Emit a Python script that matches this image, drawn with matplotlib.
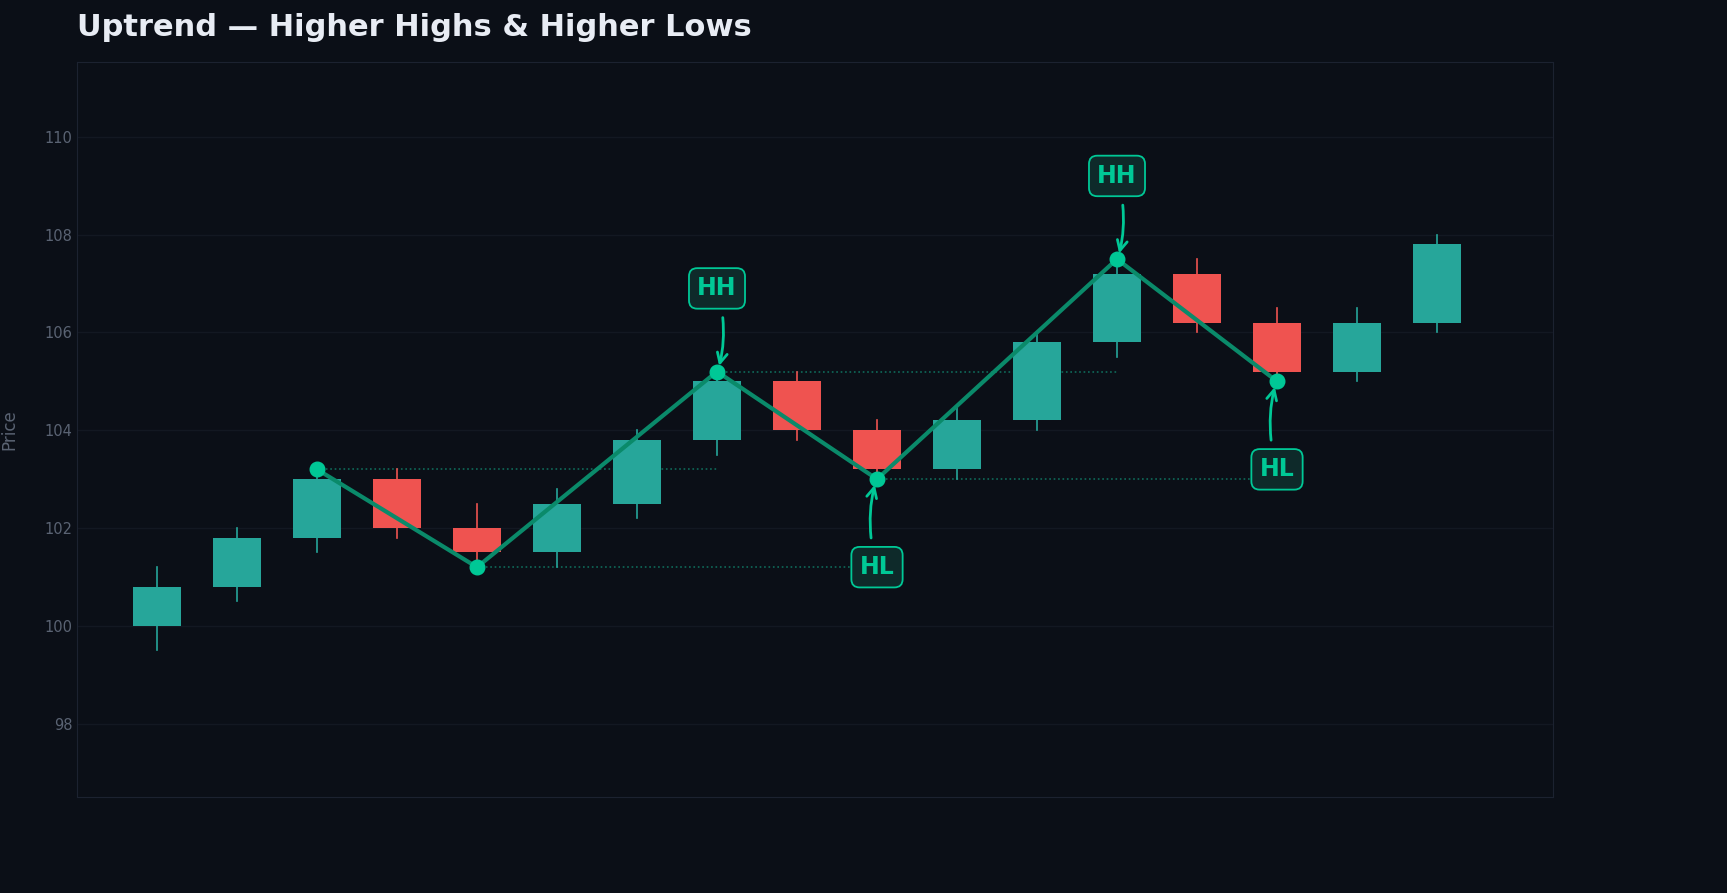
import matplotlib
matplotlib.use("Agg")
import matplotlib.pyplot as plt
from matplotlib.patches import Rectangle

opens  = [100.0,100.8,101.8,103.0,102.0,101.5,102.5,103.8,105.0,104.0,103.2,104.2,105.8,107.2,106.2,105.2,106.2]
closes = [100.8,101.8,103.0,102.0,101.5,102.5,103.8,105.0,104.0,103.2,104.2,105.8,107.2,106.2,105.2,106.2,107.8]
highs  = [101.2,102.0,103.2,103.2,102.5,102.8,104.0,105.2,105.2,104.2,104.5,106.0,107.5,107.5,106.5,106.5,108.0]
lows   = [99.5,100.5,101.5,101.8,101.2,101.2,102.2,103.5,103.8,103.0,103.0,104.0,105.5,106.0,105.0,105.0,106.0]
piv_x = [2,4,7,9,12,14]
piv_y = [103.2,101.2,105.2,103.0,107.5,105.0]
labels = ["HH","HL","HH","HL"]
label_idx = [7,9,12,14]
label_y = [106.9,101.2,109.2,103.2]

BG = "#0b0f17"
GREEN = "#26a69a"; RED = "#ef5350"; ACC = "#00c896"
fig = plt.figure(figsize=(17.27,8.93), dpi=100, facecolor=BG)
ax = fig.add_axes([77/1727, 1-797/893, (1553-77)/1727, (797-62)/893])
ax.set_facecolor(BG)
ax.set_xlim(-1, 17.45)
ax.set_ylim(96.5, 111.53)
w = 0.6
for i,(o,c,h,l) in enumerate(zip(opens,closes,highs,lows)):
    col = GREEN if c >= o else RED
    ax.plot([i,i],[l,h],color=col,lw=1.2,zorder=2)
    ax.add_patch(Rectangle((i-w/2,min(o,c)),w,abs(c-o),facecolor=col,edgecolor='none',zorder=3))
ax.plot(piv_x,piv_y,color="#0a8a6a",lw=3,zorder=4)
ax.scatter(piv_x,piv_y,s=110,color=ACC,zorder=5)
for k in range(len(piv_x)-2):
    ax.plot([piv_x[k],piv_x[k+2]],[piv_y[k],piv_y[k]],ls=':',color="#0f6a5a",lw=1.2,zorder=1)
pmap = dict(zip(piv_x,piv_y))
for lab,i,ty in zip(labels,label_idx,label_y):
    py = pmap[i]
    ax.annotate(lab, xy=(i,py+(-0.05 if lab=="HH" else 0.05)), xytext=(i,ty), ha='center', va='center',
                fontsize=17, fontweight='bold', color=ACC, zorder=6,
                bbox=dict(boxstyle="round,pad=0.35", fc="#0e2a2a", ec=ACC, lw=1.3),
                arrowprops=dict(arrowstyle="->", color=ACC, lw=2, connectionstyle="arc3,rad=-0.15",
                                mutation_scale=18, shrinkA=6, shrinkB=6))
ax.set_yticks([98,100,102,104,106,108,110])
ax.set_xticks([])
ax.grid(axis='y', color="#131822", lw=1)
ax.tick_params(axis='y', colors="#5a6373", labelsize=10.5, length=0)
for s in ax.spines.values():
    s.set_color("#1c2230")
ax.set_ylabel("Price", color="#5a6373", fontsize=12)
ax.yaxis.set_label_coords(-0.04,0.5)
fig.text(77/1727, 1-27/893, "Uptrend — Higher Highs & Higher Lows", color="#e8ecf4",
         fontsize=22, fontweight='bold', va='center', ha='left')
fig.savefig("out.png", dpi=100, facecolor=BG)
